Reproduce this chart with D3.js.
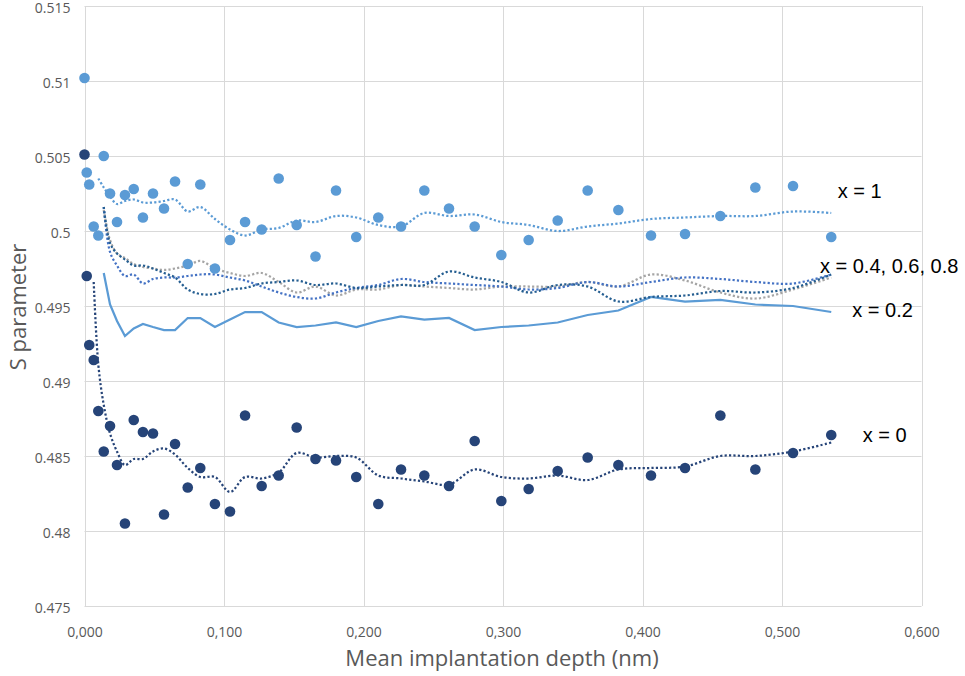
<!DOCTYPE html>
<html>
<head>
<meta charset="utf-8">
<script src="https://cdn.jsdelivr.net/npm/d3@7"></script>
<style>
  body { margin: 0; background: #fff; }
</style>
</head>
<body>
<svg id="chart" width="965" height="676"></svg>
<script>
// mean implantation depth (nm), shared by every series
var depth = [0.000, 0.0016, 0.0034, 0.0066, 0.0099, 0.0138, 0.0183, 0.0233, 0.0290, 0.0353,
    0.0419, 0.0491, 0.0570, 0.0649, 0.0740, 0.0830, 0.0935, 0.1043, 0.1151, 0.1270,
    0.1392, 0.1521, 0.1656, 0.1803, 0.1948, 0.2106, 0.2269, 0.2436, 0.2613, 0.2797,
    0.2988, 0.3184, 0.3392, 0.3607, 0.3827, 0.4061, 0.4305, 0.4558, 0.4809, 0.5079, 0.5353];

// measured points
var pointsX1 = [0.5102, 0.5039, 0.5031, 0.5003, 0.4997, 0.5050, 0.5025, 0.5006, 0.5024, 0.5028,
    0.5009, 0.5025, 0.5015, 0.5033, 0.4978, 0.5031, 0.4975, 0.4994, 0.5006, 0.5001,
    0.5035, 0.5004, 0.4983, 0.5027, 0.4996, 0.5009, 0.5003, 0.5027, 0.5015, 0.5003,
    0.4984, 0.4994, 0.5007, 0.5027, 0.5014, 0.4997, 0.4998, 0.5010, 0.5029, 0.5030, 0.4996];

var pointsX0 = [0.5051, 0.4970, 0.4924, 0.4914, 0.4880, 0.4853, 0.4870, 0.4844, 0.4805, 0.4874,
    0.4866, 0.4865, 0.4811, 0.4858, 0.4829, 0.4842, 0.4818, 0.4813, 0.4877, 0.4830,
    0.4837, 0.4869, 0.4848, 0.4847, 0.4836, 0.4818, 0.4841, 0.4837, 0.4830, 0.4860,
    0.4820, 0.4828, 0.4840, 0.4849, 0.4844, 0.4837, 0.4842, 0.4877, 0.4841, 0.4852, 0.4864];

// lines (null = not drawn there)
var trendX1 = [null, null, null, null, 0.5035, 0.5029, 0.5023, 0.5018, 0.5020, 0.5021,
    0.5019, 0.5019, 0.5020, 0.5021, 0.5013, 0.5016, 0.5008, 0.5001, 0.4997, 0.5001,
    0.5002, 0.5007, 0.5006, 0.5010, 0.5009, 0.5004, 0.5003, 0.5012, 0.5010, 0.5011,
    0.5006, 0.5004, 0.5000, 0.5003, 0.5005, 0.5008, 0.5009, 0.5010, 0.5010, 0.5013, 0.5012];

var trendX0 = [null, null, null, 0.4966, 0.4911, 0.4884, 0.4865, 0.4853, 0.4844, 0.4848,
    0.4848, 0.4853, 0.4855, 0.4851, 0.4842, 0.4836, 0.4836, 0.4826, 0.4836, 0.4835,
    0.4839, 0.4852, 0.4849, 0.4850, 0.4849, 0.4837, 0.4835, 0.4833, 0.4831, 0.4841,
    0.4836, 0.4835, 0.4837, 0.4834, 0.4841, 0.4842, 0.4843, 0.4850, 0.4850, 0.4853, 0.4859];

var lineX02 = [null, null, null, null, null, 0.4972, 0.4951, 0.4940, 0.4930, 0.4935,
    0.4938, 0.4936, 0.4934, 0.4934, 0.4942, 0.4942, 0.4936, 0.4941, 0.4946, 0.4946,
    0.4939, 0.4936, 0.4937, 0.4939, 0.4936, 0.4940, 0.4943, 0.4941, 0.4942, 0.4934,
    0.4936, 0.4937, 0.4939, 0.4944, 0.4947, 0.4956, 0.4953, 0.4954, 0.4951, 0.4950, 0.4946];

var lineGray = [null, null, null, null, null, 0.5014, 0.4994, 0.4985, 0.4982, 0.4978,
    0.4976, 0.4975, 0.4974, 0.4975, 0.4977, 0.4980, 0.4975, 0.4972, 0.4970, 0.4972,
    0.4966, 0.4959, 0.4963, 0.4957, 0.4961, 0.4961, 0.4964, 0.4963, 0.4962, 0.4961,
    0.4963, 0.4963, 0.4963, 0.4966, 0.4963, 0.4971, 0.4967, 0.4959, 0.4955, 0.4961, 0.4969];

var lineBlueA = [null, null, null, null, null, 0.5016, 0.4986, 0.4977, 0.4970, 0.4971,
    0.4965, 0.4968, 0.4969, 0.4969, 0.4970, 0.4971, 0.4971, 0.4969, 0.4967, 0.4963,
    0.4959, 0.4956, 0.4955, 0.4959, 0.4962, 0.4964, 0.4968, 0.4966, 0.4965, 0.4964,
    0.4963, 0.4961, 0.4962, 0.4966, 0.4963, 0.4966, 0.4969, 0.4968, 0.4966, 0.4965, 0.4971];

var lineBlueB = [null, null, null, null, null, 0.5016, 0.4992, 0.4985, 0.4981, 0.4977,
    0.4977, 0.4975, 0.4972, 0.4969, 0.4961, 0.4958, 0.4958, 0.4961, 0.4962, 0.4965,
    0.4966, 0.4967, 0.4964, 0.4965, 0.4962, 0.4963, 0.4964, 0.4964, 0.4973, 0.4969,
    0.4966, 0.4959, 0.4964, 0.4963, 0.4953, 0.4956, 0.4957, 0.4960, 0.4959, 0.4962, 0.4971];

var xTicks = [0, 0.1, 0.2, 0.3, 0.4, 0.5, 0.6];
var yTicks = [0.475, 0.48, 0.485, 0.49, 0.495, 0.5, 0.505, 0.51, 0.515];

var labels = [
    {text: "x = 1", depth: 0.5399, s: 0.50267},
    {text: "x = 0.4, 0.6, 0.8", depth: 0.5272, s: 0.49769},
    {text: "x = 0.2", depth: 0.5504, s: 0.49473},
    {text: "x = 0", depth: 0.5579, s: 0.48640}
];

var svg = d3.select("#chart");
var x = d3.scaleLinear().domain([0, 0.6]).range([84.5, 921.5]);
var y = d3.scaleLinear().domain([0.475, 0.515]).range([606, 6]);
var tickFont = "'Open Sans', sans-serif";

// gridlines
svg.append("g").selectAll("line")
    .data(yTicks)
    .enter().append("line")
    .attr("x1", x(0)).attr("x2", x(0.6))
    .attr("y1", d => Math.round(y(d)) + 0.5).attr("y2", d => Math.round(y(d)) + 0.5)
    .attr("stroke", "#d9d9d9");

svg.append("g").selectAll("line")
    .data(xTicks)
    .enter().append("line")
    .attr("x1", d => Math.round(x(d)) + 0.5).attr("x2", d => Math.round(x(d)) + 0.5)
    .attr("y1", y(0.515)).attr("y2", y(0.475))
    .attr("stroke", "#d9d9d9");

// axes (labels only)
var yAxis = svg.append("g")
    .attr("transform", "translate(" + x(0) + ",0)")
    .call(d3.axisLeft(y).tickValues(yTicks).tickSize(0).tickPadding(14)
        .tickFormat(d => String(+d.toFixed(3))));
var xAxis = svg.append("g")
    .attr("transform", "translate(0," + y(0.475) + ")")
    .call(d3.axisBottom(x).tickValues(xTicks).tickSize(0).tickPadding(21)
        .tickFormat(d => d3.format(".3f")(d).replace(".", ",")));
[yAxis, xAxis].forEach(function (a) {
    a.select(".domain").remove();
    a.selectAll("text")
        .attr("fill", "#595959")
        .style("font-family", tickFont)
        .style("font-size", "14px");
});
yAxis.selectAll("text").attr("dy", "0.45em");

// axis titles
svg.append("text")
    .attr("x", 502).attr("y", 666)
    .attr("text-anchor", "middle")
    .attr("fill", "#595959")
    .style("font-family", tickFont)
    .style("font-size", "22px")
    .text("Mean implantation depth (nm)");

svg.append("text")
    .attr("transform", "translate(26,307) rotate(-90)")
    .attr("text-anchor", "middle")
    .attr("fill", "#595959")
    .style("font-family", tickFont)
    .style("font-size", "22px")
    .text("S parameter");

// lines
function drawLine(values, color, dotted, curve) {
    var gen = d3.line()
        .defined(d => d[1] != null)
        .x(d => x(d[0]))
        .y(d => y(d[1]))
        .curve(curve);
    svg.append("path")
        .datum(depth.map((d, i) => [d, values[i]]))
        .attr("d", gen)
        .attr("fill", "none")
        .attr("stroke", color)
        .attr("stroke-width", 2.25)
        .attr("stroke-dasharray", dotted ? "2.2,2.2" : null);
}

var smooth = d3.curveCatmullRom.alpha(0.5);
drawLine(lineX02, "#5b9bd5", false, d3.curveLinear);
drawLine(lineGray, "#a5a5a5", true, smooth);
drawLine(lineBlueA, "#4472c4", true, smooth);
drawLine(lineBlueB, "#255e91", true, smooth);
drawLine(trendX1, "#5b9bd5", true, smooth);
drawLine(trendX0, "#264478", true, smooth);

// points
function drawPoints(values, color) {
    svg.append("g").selectAll("circle")
        .data(depth.map((d, i) => [d, values[i]]))
        .enter().append("circle")
        .attr("cx", d => x(d[0]))
        .attr("cy", d => y(d[1]))
        .attr("r", 5.3)
        .attr("fill", color);
}
drawPoints(pointsX1, "#5b9bd5");
drawPoints(pointsX0, "#264478");

// series labels
svg.append("g").selectAll("text")
    .data(labels)
    .enter().append("text")
    .attr("x", d => x(d.depth))
    .attr("y", d => y(d.s))
    .attr("dy", "0.35em")
    .attr("fill", "#000")
    .style("font-family", "'Liberation Sans', Arial, sans-serif")
    .style("font-size", "20px")
    .text(d => d.text);
</script>
</body>
</html>
